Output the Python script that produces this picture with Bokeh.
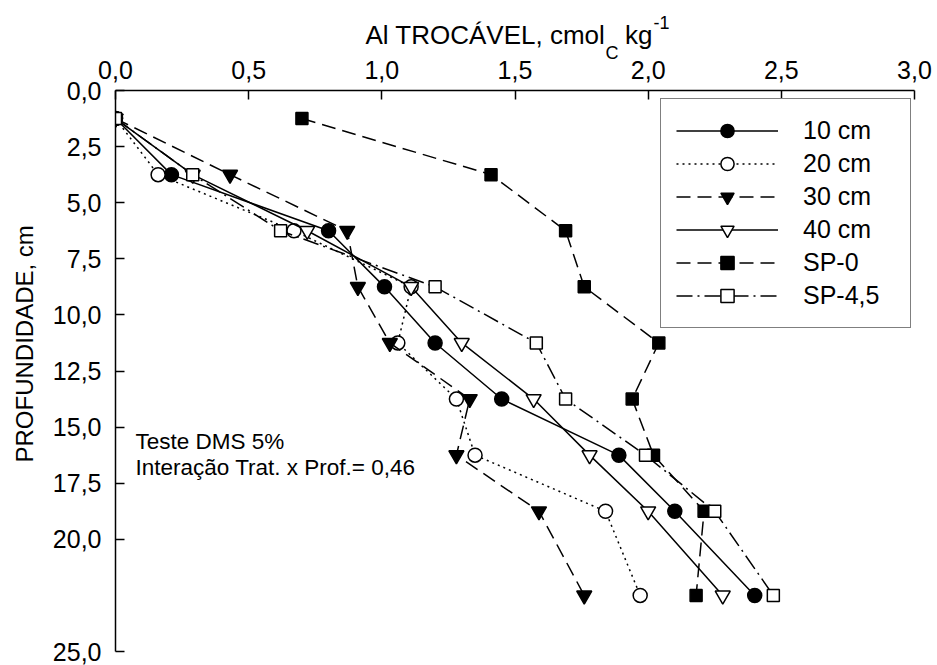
from bokeh.plotting import figure
from bokeh.models import (Range1d, FixedTicker, CustomJSTickFormatter, Label,
                          Legend, LegendItem, Title)
from bokeh.embed import file_html
from bokeh.resources import INLINE

# Sampling depths (cm) and exchangeable Al (cmolc/kg) per treatment
depth = [1.25, 3.75, 6.25, 8.75, 11.25, 13.75, 16.25, 18.75, 22.5]
al_10cm = [0.0, 0.21, 0.80, 1.01, 1.20, 1.45, 1.89, 2.10, 2.40]
al_20cm = [0.0, 0.16, 0.67, 1.11, 1.06, 1.28, 1.35, 1.84, 1.97]
al_30cm = [0.0, 0.43, 0.87, 0.91, 1.03, 1.33, 1.28, 1.59, 1.76]
al_40cm = [0.0, 0.29, 0.72, 1.11, 1.30, 1.57, 1.78, 2.00, 2.28]
al_sp0 = [0.70, 1.41, 1.69, 1.76, 2.04, 1.94, 2.02, 2.21, 2.18]
al_sp45 = [0.0, 0.29, 0.62, 1.20, 1.58, 1.69, 1.99, 2.25, 2.47]

series_names = ["10 cm", "20 cm", "30 cm", "40 cm", "SP-0", "SP-4,5"]
x_ticks = [0.0, 0.5, 1.0, 1.5, 2.0, 2.5, 3.0]
y_ticks = [0.0, 2.5, 5.0, 7.5, 10.0, 12.5, 15.0, 17.5, 20.0, 25.0]

FONT = "Liberation Sans"

p = figure(width=937, height=665, output_backend="svg", toolbar_location=None,
           title=None,
           x_range=Range1d(0, 3), y_range=Range1d(25, 0),
           x_axis_location="above",
           min_border_left=113, min_border_right=23,
           min_border_top=90, min_border_bottom=14)
p.outline_line_color = None
p.xgrid.visible = False
p.ygrid.visible = False
p.background_fill_color = "white"
p.border_fill_color = "white"

comma = CustomJSTickFormatter(code="return tick.toFixed(1).replace('.', ',');")
p.xaxis.ticker = FixedTicker(ticks=x_ticks, minor_ticks=[])
p.yaxis.ticker = FixedTicker(ticks=y_ticks, minor_ticks=[])
for ax in (p.xaxis[0], p.yaxis[0]):
    ax.formatter = comma
    ax.axis_line_color = "black"
    ax.axis_line_width = 1.5
    ax.major_tick_line_color = "black"
    ax.major_tick_line_width = 1.5
    ax.major_tick_in = 9
    ax.major_tick_out = 0
    ax.minor_tick_line_color = None
    ax.major_label_text_font = FONT
    ax.major_label_text_font_size = "25px"
    ax.major_label_text_color = "black"
p.xaxis.major_label_standoff = 12
p.yaxis.major_label_standoff = 14

LW = 1.5
styles = [
    dict(dash="solid", marker="circle", fill="black", size=14),
    dict(dash="2 4", marker="circle", fill="white", size=14),
    dict(dash="14 7", marker="inverted_triangle", fill="black", size=15),
    dict(dash="solid", marker="inverted_triangle", fill="white", size=15),
    dict(dash="14 7", marker="square", fill="black", size=12),
    dict(dash="16 5 2 5", marker="square", fill="white", size=12),
]
values = [al_10cm, al_20cm, al_30cm, al_40cm, al_sp0, al_sp45]

items = []
for name, vals, st in zip(series_names, values, styles):
    ln = p.line(vals, depth, line_color="black", line_width=LW,
                line_dash=st["dash"])
    sc = p.scatter(vals, depth, marker=st["marker"], size=st["size"],
                   fill_color=st["fill"], line_color="black", line_width=LW)
    items.append(LegendItem(label=name, renderers=[ln, sc]))

legend = Legend(items=items, location=(545, 323),
                border_line_color="black", border_line_width=1.5,
                background_fill_color="white", background_fill_alpha=1.0,
                padding=15, spacing=0, margin=0,
                glyph_width=102, glyph_height=33,
                label_height=33, label_width=92, label_standoff=25,
                label_text_font=FONT, label_text_font_size="25px",
                label_text_color="black", label_text_baseline="middle")
p.add_layout(legend)


def title_piece(text, size, offset, standoff, valign="bottom"):
    return Title(text=text, align="left", vertical_align=valign,
                 offset=offset, standoff=standoff,
                 text_font=FONT, text_font_size=size,
                 text_font_style="normal", text_color="black")


# X title: subscript row, main text row, superscript row (stacked above axis)
p.add_layout(title_piece("C", "18px", 490, -10), "above")
p.add_layout(title_piece("Al TROCÁVEL, cmol\u2002 kg", "26px", 250, -8),
             "above")
p.add_layout(title_piece("-1", "18px", 538, -15), "above")

# Y title
p.add_layout(title_piece("PROFUNDIDADE, cm", "24px", 189, 20, valign="top"),
             "left")

# LSD note
p.add_layout(Label(x=20, y=210, x_units="screen", y_units="screen",
                   text="Teste DMS 5%", text_font=FONT,
                   text_font_size="22.5px", text_color="black",
                   text_baseline="middle", text_align="left"))
p.add_layout(Label(x=20, y=184, x_units="screen", y_units="screen",
                   text="Interação Trat. x Prof.= 0,46", text_font=FONT,
                   text_font_size="22.5px", text_color="black",
                   text_baseline="middle", text_align="left"))

open("out.html", "w").write(file_html(p, INLINE))
